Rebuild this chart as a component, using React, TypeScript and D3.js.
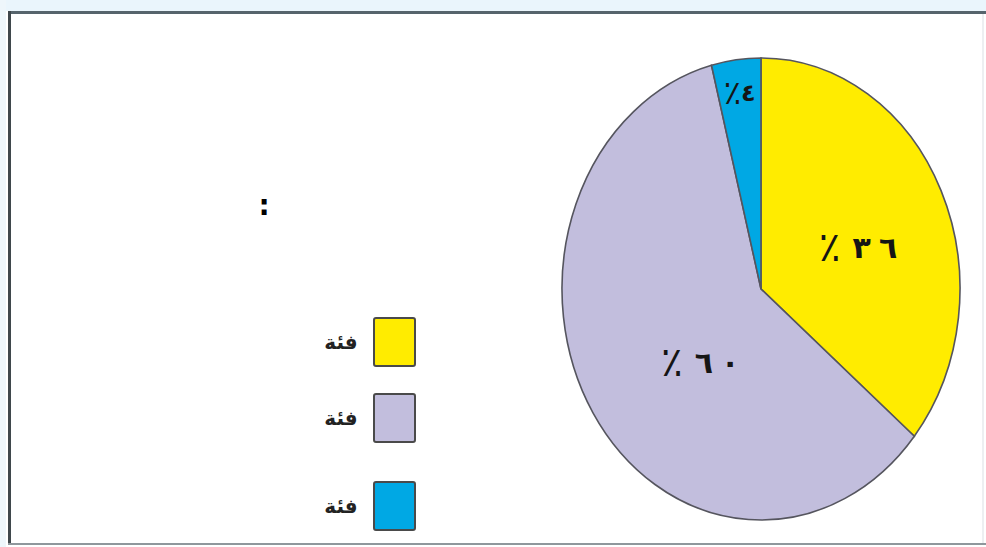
import React from "react";
import * as d3 from "d3";

const categories = ["فئة", "فئة", "فئة"];
const values = [36, 60, 4];
const valueDigits = ["٣٦", "٦٠", "٤"];
const percentSign = "٪";
const colors = ["#FFEC00", "#C2BEDD", "#00A8E4"];

const W = 986;
const H = 547;

export default function App() {
  const cx = 761;
  const cy = 289;
  const rx = 199;
  const ry = 231;
  const sy = ry / rx;
  const labelFrac = [0.52, 0.44, 0.855];
  const labelShift = [0.085, -0.237, 0];
  const labelSize = [30, 30, 24];
  const legendYs = [318, 394, 482];

  const pie = d3.pie<number>().sort(null).value((d) => d);
  const arcs = pie(values);
  const arc = d3.arc<d3.PieArcDatum<number>>().innerRadius(0).outerRadius(rx);

  return (
    <svg
      width={W}
      height={H}
      style={{ position: "absolute", left: 0, top: 0, background: "#fff" }}
    >
      <rect x={0} y={0} width={W} height={11} fill="#EAF5FC" />
      <rect x={0} y={0} width={6} height={H} fill="#EEF6FB" />
      {/* frame */}
      <line x1={8} y1={12.5} x2={986} y2={12.5} stroke="#56646C" strokeWidth={3} />
      <line x1={9.5} y1={11} x2={9.5} y2={545} stroke="#3F474C" strokeWidth={3} />
      <line x1={8} y1={544} x2={986} y2={544} stroke="#8F979C" strokeWidth={2} />
      <line x1={983} y1={14} x2={983} y2={543} stroke="#EDEFF1" strokeWidth={2} />

      {/* pie */}
      <g transform={`translate(${cx},${cy}) scale(1,${sy})`}>
        {arcs.map((a, i) => (
          <path
            key={i}
            d={arc(a) || ""}
            fill={colors[i]}
            stroke="#55555E"
            strokeWidth={1.6}
            vectorEffect="non-scaling-stroke"
          />
        ))}
      </g>
      {arcs.map((a, i) => {
        const ang = (a.startAngle + a.endAngle) / 2 + labelShift[i];
        const r = rx * labelFrac[i];
        const lx = Math.sin(ang) * r;
        const ly = -Math.cos(ang) * r * sy;
        const digits = Array.from(valueDigits[i]);
        return (
          <text
            key={i}
            x={cx + lx}
            y={cy + ly}
            textAnchor="middle"
            dominantBaseline="central"
            fontFamily="DejaVu Sans, sans-serif"
            fontWeight="bold"
            fontSize={labelSize[i]}
            fill="#151515"
            direction="ltr"
          >
            <tspan fontSize={labelSize[i] * 1.35} fontWeight="normal">{percentSign}</tspan>
            {digits.map((d, k) => (
              <tspan key={k} dx={i === 2 ? 0 : k === 0 ? 12 : 8}>{d}</tspan>
            ))}
          </text>
        );
      })}

      {/* colon */}
      <text x={264} y={205} textAnchor="middle" dominantBaseline="central" fontFamily="DejaVu Sans, sans-serif" fontWeight="bold" fontSize={28} fill="#000">
        :
      </text>

      {/* legend */}
      {categories.map((c, i) => (
        <g key={i}>
          <rect
            x={374}
            y={legendYs[i]}
            width={41}
            height={48}
            rx={2}
            fill={colors[i]}
            stroke="#4A4A4A"
            strokeWidth={2}
          />
          <text
            x={341}
            y={legendYs[i] + 24}
            textAnchor="middle"
            dominantBaseline="central"
            fontFamily="DejaVu Sans, sans-serif"
            fontWeight="bold"
            fontSize={20}
            fill="#222"
          >
            {c}
          </text>
        </g>
      ))}
    </svg>
  );
}
